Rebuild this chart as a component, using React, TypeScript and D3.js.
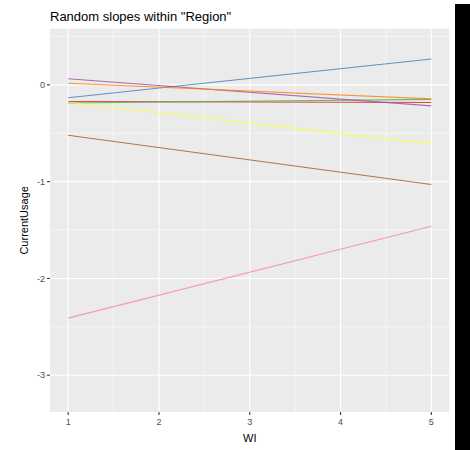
import React from "react";
import * as d3 from "d3";

const groups = ["A", "B", "C", "D", "E", "F", "G", "H"];
const colors = ["#E41A1C", "#377EB8", "#4DAF4A", "#984EA3", "#FF7F00", "#FFFF33", "#A65628", "#F781BF"];
const startValues = [-0.172, -0.134, -0.187, 0.062, 0.017, -0.18, -0.52, -2.41];
const endValues = [-0.183, 0.266, -0.15, -0.217, -0.145, -0.61, -1.03, -1.46];
const xTicks = [1, 2, 3, 4, 5];
const yTicks = [0, -1, -2, -3];
const xStart = 1;
const xEnd = 5;

export default function App() {
  const W = 470, H = 450;
  const pl = 50, pr = 449.5, pt = 28.7, pb = 412;
  const x = d3.scaleLinear().domain([0.8, 5.2]).range([pl, pr]);
  const y = d3.scaleLinear().domain([-3.38, 0.58]).range([pb, pt]);
  const line = d3.line<[number, number]>().x(d => x(d[0])).y(d => y(d[1]));
  const xMinor = [1.5, 2.5, 3.5, 4.5];
  const yMinor = [0.5, -0.5, -1.5, -2.5];
  return (
    <svg width={W} height={H} style={{ position: "absolute", left: 0, top: 0, background: "#fff" }}
      fontFamily="Liberation Sans, Arial, sans-serif">
      <rect x={0} y={0} width={W} height={H} fill="#fff" />
      <text x={pl} y={21} fontSize={13} fill="#000">Random slopes within "Region"</text>
      <rect x={pl} y={pt} width={pr - pl} height={pb - pt} fill="#EBEBEB" />
      {xMinor.map(v => <line key={"xm" + v} x1={x(v)} x2={x(v)} y1={pt} y2={pb} stroke="#fff" strokeWidth={0.55} />)}
      {yMinor.map(v => <line key={"ym" + v} y1={y(v)} y2={y(v)} x1={pl} x2={pr} stroke="#fff" strokeWidth={0.55} />)}
      {xTicks.map(v => <line key={"xg" + v} x1={x(v)} x2={x(v)} y1={pt} y2={pb} stroke="#fff" strokeWidth={1.1} />)}
      {yTicks.map(v => <line key={"yg" + v} y1={y(v)} y2={y(v)} x1={pl} x2={pr} stroke="#fff" strokeWidth={1.1} />)}
      {groups.map((g, i) => (
        <path key={g} d={line([[xStart, startValues[i]], [xEnd, endValues[i]]]) || ""}
          fill="none" stroke={colors[i]} strokeWidth={1.07} strokeOpacity={0.8} />
      ))}
      {xTicks.map(v => (
        <g key={"xt" + v}>
          <line x1={x(v)} x2={x(v)} y1={pb} y2={pb + 3} stroke="#333" strokeWidth={1.07} />
          <text x={x(v)} y={pb + 13} fontSize={9} fill="#4D4D4D" textAnchor="middle">{v}</text>
        </g>
      ))}
      {yTicks.map(v => (
        <g key={"yt" + v}>
          <line x1={pl - 3} x2={pl} y1={y(v)} y2={y(v)} stroke="#333" strokeWidth={1.07} />
          <text x={pl - 5} y={y(v) + 3.2} fontSize={9} fill="#4D4D4D" textAnchor="end">{v === 0 ? "0" : "-" + Math.abs(v)}</text>
        </g>
      ))}
      <text x={(pl + pr) / 2} y={442} fontSize={11} fill="#000" textAnchor="middle">WI</text>
      <text transform={`translate(28,${(pt + pb) / 2}) rotate(-90)`} fontSize={11} fill="#000" textAnchor="middle">CurrentUsage</text>
      <rect x={455} y={4} width={15} height={446} fill="#000" />
    </svg>
  );
}
